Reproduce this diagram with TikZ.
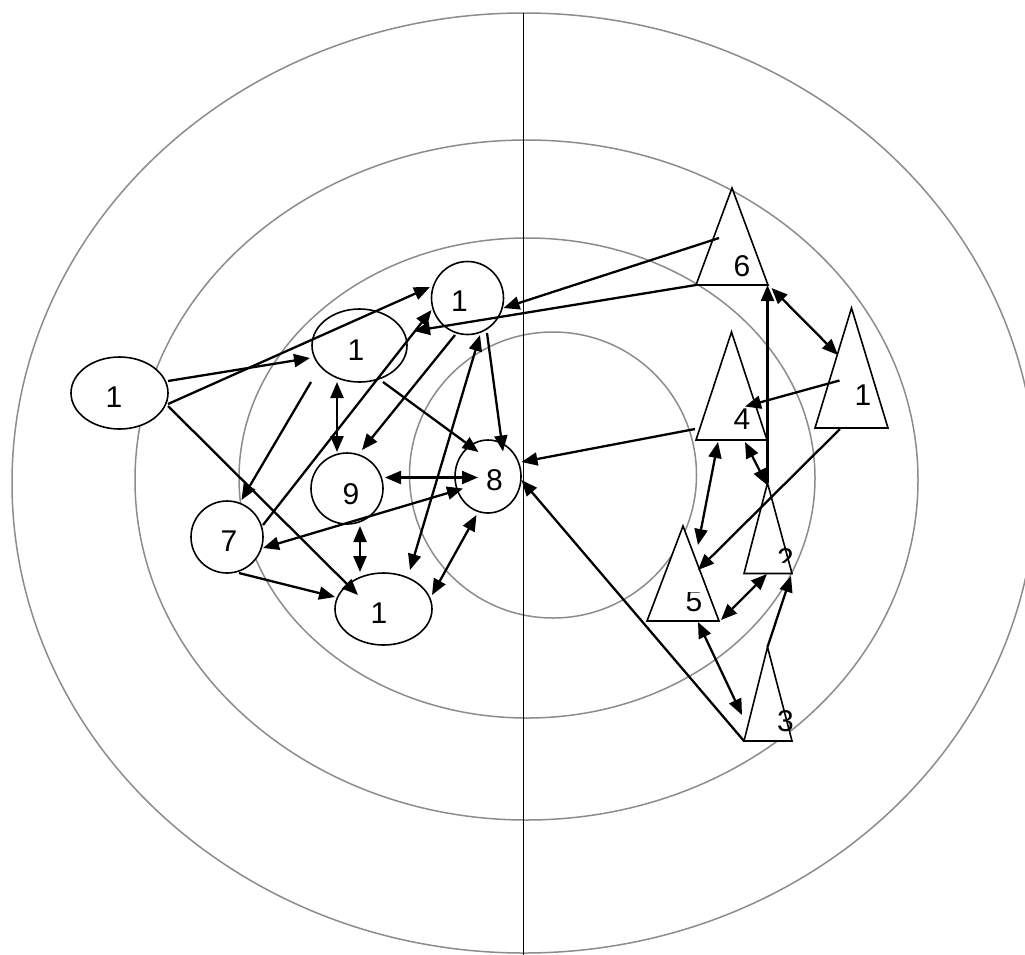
\documentclass[tikz,border=0pt]{standalone}
\usepackage{fontspec}
\setmainfont{Liberation Sans}
\usetikzlibrary{arrows.meta,shapes.geometric}
\definecolor{ring}{RGB}{140,140,140}
\begin{document}
\begin{tikzpicture}[x=1pt,y=-1pt,
  ringl/.style={draw=ring,line width=1.5pt},
  axis/.style={draw=black,line width=1.7pt},
  ell/.style={draw,ellipse,fill=white,line width=1.6pt,inner sep=0pt},
  tri/.style={draw,fill=white,line width=1.6pt,line join=miter},
  lab/.style={inner sep=0pt,font=\fontsize{30}{30}\selectfont},
  con/.style={line width=2.3pt,-{Triangle[length=16pt,width=13pt]}},
  dcon/.style={line width=2.3pt,{Triangle[length=16pt,width=13pt]}-{Triangle[length=16pt,width=13pt]}},
]
\clip (0,0) rectangle (1025,954);
\fill[white] (0,0) rectangle (1025,954);
% rings
\draw[ringl] (524,483) ellipse [x radius=512, y radius=470];
\draw[ringl] (526.5,480) ellipse [x radius=391.5, y radius=340];
\draw[ringl] (527,478) ellipse [x radius=288, y radius=240];
\draw[ringl] (553,475) ellipse [x radius=143.5, y radius=143];
% vertical line
\coordinate (vtop) at (523.5,13);
\coordinate (vbot) at (523.5,960);
\draw[axis] (vtop) -- (vbot);
% ellipse nodes
\node[ell,minimum width=97pt,minimum height=72pt] (A) at (119.5,393) {};
\node[ell,minimum width=95pt,minimum height=73pt] (B) at (359.5,345.5) {};
\node[ell,minimum width=72pt,minimum height=73pt] (C) at (467.5,298) {};
\node[ell,minimum width=72pt,minimum height=71pt] (D) at (347,488.5) {};
\node[ell,minimum width=66pt,minimum height=73pt] (E) at (488,476.5) {};
\node[ell,minimum width=72pt,minimum height=72pt] (F) at (227,537) {};
\node[ell,minimum width=97pt,minimum height=72pt] (G) at (383.5,609) {};
\node[lab] (Al) at (114,397.5) {1};
\node[lab] (Bl) at (356,350) {1};
\node[lab] (Cl) at (459.5,301.5) {1};
\node[lab] (Dl) at (351,494) {9};
\node[lab] (El) at (494.5,480) {8};
\node[lab] (Fl) at (229,541) {7};
\node[lab] (Gl) at (379,613.5) {1};
% triangles (base centres)
\coordinate (t6) at (732,285);
\coordinate (t1) at (851.5,428);
\coordinate (t4) at (731.5,440);
\coordinate (t2) at (768,573.5);
\coordinate (t5) at (683,621);
\coordinate (t3) at (768,741);
\draw[tri] ([shift={(-36,0)}]t6) -- ([shift={(0,-97)}]t6) -- ([shift={(36,0)}]t6) -- cycle;
\draw[tri] ([shift={(-36.5,0)}]t1) -- ([shift={(0,-120)}]t1) -- ([shift={(36.5,0)}]t1) -- cycle;
\draw[tri] ([shift={(-35.5,0)}]t4) -- ([shift={(0,-108)}]t4) -- ([shift={(35.5,0)}]t4) -- cycle;
\draw[tri] ([shift={(-24,0)}]t2) -- ([shift={(-0.5,-90.5)}]t2) -- ([shift={(24,0)}]t2) -- cycle;
\draw[tri] ([shift={(-36,0)}]t5) -- ([shift={(0,-95)}]t5) -- ([shift={(36,0)}]t5) -- cycle;
\draw[tri] ([shift={(-24,0)}]t3) -- ([shift={(-0.5,-94)}]t3) -- ([shift={(24,0)}]t3) -- cycle;
\node[lab] (T6l) at (742,266) {6};
\node[lab] (T1l) at (863,395.5) {1};
\node[lab] (T4l) at (742,419) {4};
\begin{scope}
\clip (740,540) rectangle (800,562);
\node[lab] (T2l) at (785.5,559) {2};
\end{scope}
\begin{scope}
\clip (670,592) rectangle (720,620);
\node[lab] (T5l) at (694,601) {5};
\end{scope}
\begin{scope}
\clip (777,700) rectangle (800,740);
\node[lab] (T3l) at (785.5,721) {3};
\end{scope}
% connectors, left group
\draw[con] ([shift={(48.5,-12)}]A.center) -- ([shift={(-49.5,12.5)}]B.center);
\draw[con] ([shift={(48.5,11)}]A.center) -- ([shift={(-37.5,-11)}]C.center);
\draw[con] ([shift={(48.5,13)}]A.center) -- ([shift={(-25.5,-14)}]G.center);
\draw[con] ([shift={(-48.5,36.5)}]B.center) -- ([shift={(14.5,-37)}]F.center);
\draw[dcon] ([shift={(-22.5,36.5)}]B.center) -- ([shift={(-10,-36.5)}]D.center);
\draw[con] ([shift={(36,-12)}]F.center) -- ([shift={(-36,12)}]C.center);
\draw[con] ([shift={(23.5,36.5)}]B.center) -- ([shift={(-9.5,-24.5)}]E.center);
\draw[con] ([shift={(-12.5,37)}]C.center) -- ([shift={(15,-38.5)}]D.center);
\draw[dcon] ([shift={(26.5,-39)}]G.center) -- ([shift={(12.5,37)}]C.center);
\draw[con] ([shift={(19.5,35)}]C.center) -- ([shift={(15,-25)}]E.center);
\draw[dcon] ([shift={(38,-11)}]D.center) -- ([shift={(-10,1)}]E.center);
\draw[dcon] ([shift={(36,11)}]F.center) -- ([shift={(-25,12)}]E.center);
\draw[dcon] ([shift={(13,37.5)}]D.center) -- ([shift={(-23.5,-37)}]G.center);
\draw[con] ([shift={(12,36)}]F.center) -- ([shift={(-48.5,-12)}]G.center);
\draw[dcon] ([shift={(48.5,-14)}]G.center) -- ([shift={(-11.5,38.5)}]E.center);
% connectors, right group
\draw[con] ([shift={(-13,-47)}]t6) -- ([shift={(36,10)}]C.center);
\draw[con] ([shift={(-36,0)}]t6) -- ([shift={(54.5,-14.5)}]B.center);
\draw[dcon] ([shift={(39.5,3)}]t6) -- ([shift={(-13.5,-73)}]t1);
\draw[con] ([shift={(-0.5,-90.5)}]t2) -- ([shift={(35.5,0)}]t6);
\draw[dcon] ([shift={(13.5,2)}]t4) -- ([shift={(-1,-88.5)}]t2);
\draw[con] ([shift={(-12,-47.5)}]t1) -- ([shift={(13.5,-33.5)}]t4);
\draw[con] ([shift={(-36.5,-11)}]t4) -- ([shift={(33.5,-14.5)}]E.center);
\draw[dcon] ([shift={(-13.5,2)}]t4) -- ([shift={(15,-76)}]t5);
\draw[con] ([shift={(-11.5,1)}]t1) -- ([shift={(15,-51)}]t5);
\draw[dcon] ([shift={(38,-1)}]t5) -- ([shift={(-1,0.5)}]t2);
\draw[con] ([shift={(-0.5,-94)}]t3) -- ([shift={(23,2.5)}]t2);
\draw[dcon] ([shift={(15,1)}]t5) -- ([shift={(-26,-26)}]t3);
\draw[con] ([shift={(-24,0)}]t3) -- ([shift={(33.5,3.5)}]E.center);
\end{tikzpicture}
\end{document}
